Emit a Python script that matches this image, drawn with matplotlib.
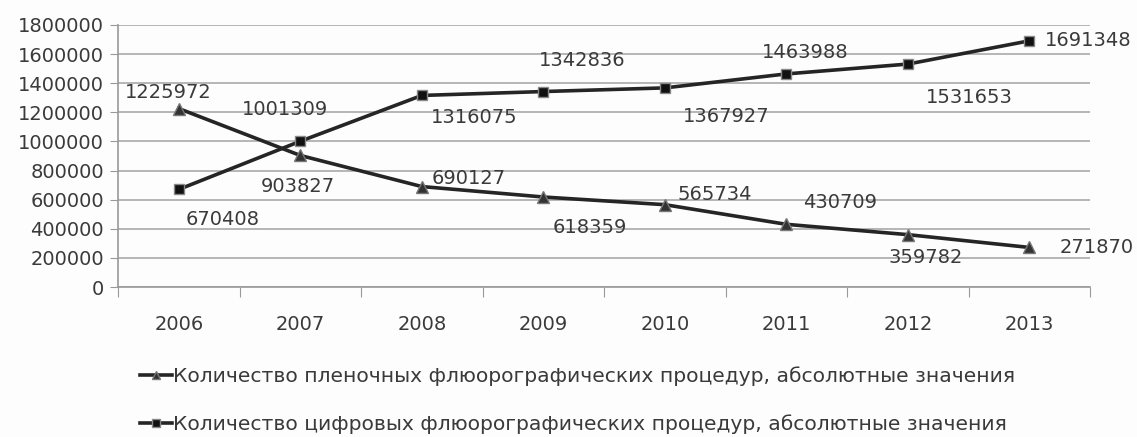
import numpy as np
import matplotlib
matplotlib.use("Agg")
import matplotlib.pyplot as plt

years = ["2006", "2007", "2008", "2009", "2010", "2011", "2012", "2013"]
film = [1225972, 903827, 690127, 618359, 565734, 430709, 359782, 271870]
digital = [670408, 1001309, 1316075, 1342836, 1367927, 1463988, 1531653, 1691348]
film_label = "Количество пленочных флюорографических процедур, абсолютные значения"
digital_label = "Количество цифровых флюорографических процедур, абсолютные значения"

# label offsets (pixels) from each point
film_off = [(-11, 16), (-2, -31), (47, 8), (46, -30), (50, 10), (54, 22), (18, -23), (67, 0)]
digital_off = [(44, -30), (-15, 32), (52, -22), (39, 31), (61, -29), (19, 21), (61, -33), (59, 0)]

plt.rcParams['font.family'] = ['DejaVu Sans']
txt_col = "#3a3a3a"

fig = plt.figure(figsize=(11.37, 4.37), dpi=100)
fig.patch.set_facecolor("#fdfdfd")
ax = fig.add_axes([0.1038, 0.3432, 0.855, 0.5996])
ax.set_facecolor("#fdfdfd")

x = np.arange(len(years))
l1, = ax.plot(x, film, color="#252525", lw=2.6, marker="^", ms=8,
              mfc="#333333", mec="#777777", mew=1, zorder=3)
l2, = ax.plot(x, digital, color="#252525", lw=2.6, marker="s", ms=7,
              mfc="#111111", mec="#888888", mew=1, zorder=3)

for xi, v, (dx, dy) in zip(x, film, film_off):
    ax.annotate(str(v), (xi, v), xytext=(dx, dy), textcoords="offset pixels",
                ha="center", va="center", fontsize=14, color=txt_col)
for xi, v, (dx, dy) in zip(x, digital, digital_off):
    ax.annotate(str(v), (xi, v), xytext=(dx, dy), textcoords="offset pixels",
                ha="center", va="center", fontsize=14, color=txt_col)

ax.set_ylim(0, 1800000)
ax.set_yticks(np.arange(0, 1800001, 200000))
ax.set_yticklabels([str(t) for t in range(0, 1800001, 200000)])
ax.set_xlim(-0.5, len(years) - 0.5)
ax.set_xticks(np.arange(-0.5, len(years)), minor=False)
ax.set_xticklabels([])
ax.set_xticks(x, minor=True)
ax.set_xticklabels(years, minor=True)
ax.tick_params(axis="x", which="major", length=7, direction="out", color="#999999")
ax.tick_params(axis="x", which="minor", length=0, pad=20, labelsize=14, labelcolor=txt_col)
ax.tick_params(axis="y", length=6, direction="out", color="#999999", labelsize=14,
               labelcolor=txt_col, pad=4)
ax.grid(axis="y", color="#aaaaaa", lw=1.2)
ax.set_axisbelow(True)
for s in ["top", "right"]:
    ax.spines[s].set_visible(False)
ax.spines["left"].set_color("#999999")
ax.spines["bottom"].set_color("#999999")
ax.spines["left"].set_linewidth(1.2)
ax.spines["bottom"].set_linewidth(1.2)

leg = fig.legend([l1, l2], [film_label, digital_label], loc="upper left",
                 bbox_to_anchor=(140 / 1137, 1 - 366 / 437), frameon=False, fontsize=14.6,
                 labelspacing=1.4, handlelength=1.6, handletextpad=0.05,
                 borderaxespad=0, borderpad=0, markerscale=0.8)
for t in leg.get_texts():
    t.set_color(txt_col)

fig.savefig("out.png", dpi=100, facecolor=fig.get_facecolor())
